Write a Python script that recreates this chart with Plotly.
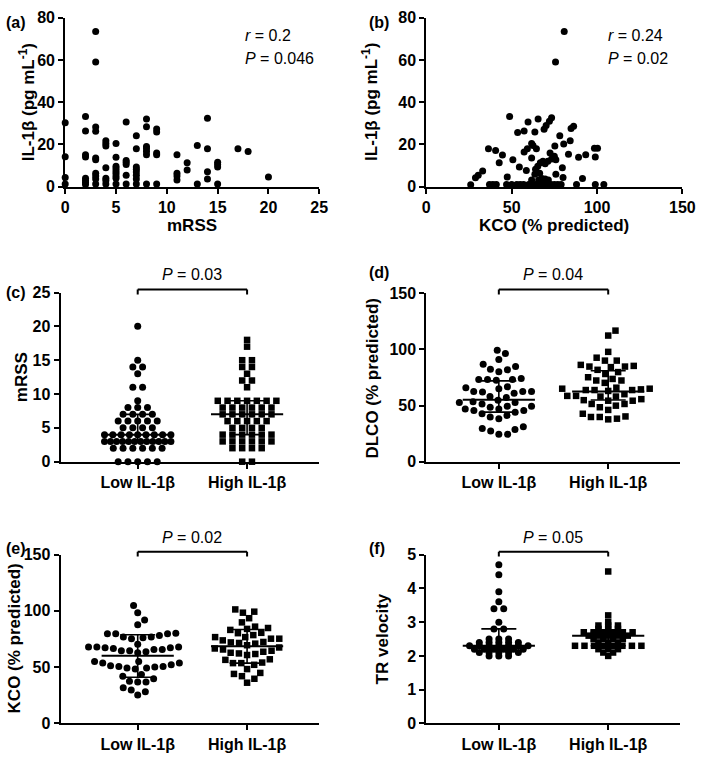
import plotly.graph_objects as go

W, H = 709, 766
FONT = "Liberation Sans"

# ---------------- data ----------------
# (a) IL-1b vs mRSS
a_mrss = [0, 0, 0, 0,
          2, 2, 2, 2, 2, 2, 2, 2,
          3, 3, 3, 3, 3, 3, 3, 3, 3, 3,
          4, 4, 4, 4, 4, 4, 4,
          5, 5, 5, 5, 5, 5, 5, 5, 5,
          6, 6, 6, 6, 6, 6,
          7, 7, 7, 7, 7, 7, 7, 7,
          8, 8, 8, 8, 8, 8, 8,
          9, 9, 9, 9, 9,
          11, 11, 11, 11,
          12, 12,
          13, 13,
          14, 14, 14, 14,
          15, 15, 15, 15,
          17, 18, 20]
a_il1b = [30.3, 14.2, 4.3, 1.2,
          33.2, 26.4, 15.1, 14.0, 4.0, 2.9, 2.0, 1.0,
          73.5, 59.0, 28.3, 26.2, 13.6, 12.7, 6.3, 5.1, 3.6, 1.2,
          21.8, 20.5, 19.3, 9.0, 4.0, 2.9, 1.2,
          20.5, 13.9, 9.7, 8.6, 7.4, 6.3, 5.1, 4.0, 1.2,
          30.6, 12.4, 11.6, 10.5, 5.4, 1.2,
          24.1, 17.9, 9.3, 8.2, 6.9, 5.4, 3.6, 1.2,
          32.1, 28.4, 19.0, 17.9, 16.7, 15.1, 1.2,
          27.3, 25.9, 15.9, 15.1, 1.2,
          15.1, 6.3, 5.1, 3.2,
          11.3, 7.9,
          19.5, 1.2,
          32.4, 17.9, 7.1, 3.6,
          11.6, 10.5, 9.3, 1.2,
          17.9, 16.7, 4.6]

# (b) IL-1b vs KCO
b_kco = [80.8, 75.7, 48.8, 59.6, 65.5, 73.4, 72.1, 70.2, 69.0, 53.5, 57.3, 63.6,
         84.8, 86.3, 78.2, 84.3, 80.5, 75.3, 61.7, 62.5, 59.2, 57.3, 64.5,
         36.4, 40.6, 44.6, 42.7, 50.7, 54.5, 58.6, 61.7, 72.5, 75.0, 75.9,
         83.3, 89.2, 93.4, 98.5, 100.3, 99.0, 26.0, 28.8, 30.4, 33.0, 47.4,
         79.7, 75.9, 80.1, 91.5, 64.0, 65.3, 66.8, 68.3, 69.6, 71.2, 73.4,
         63.6, 66.4, 67.7, 69.6, 61.7, 65.8, 71.5,
         37, 39, 41, 47, 50, 53, 55, 57, 60, 62, 64, 66, 68, 70, 73, 75, 77,
         79, 88, 99, 104]
b_il1b = [73.5, 59.0, 33.2, 30.6, 32.1, 32.6, 31.0, 29.0, 27.2, 25.6, 26.4, 25.9,
          27.5, 28.6, 24.1, 21.8, 20.2, 19.3, 20.5, 19.5, 17.9, 16.4, 17.9,
          17.9, 17.1, 15.0, 11.3, 12.8, 9.3, 7.7, 13.6, 15.9, 14.4, 12.8,
          15.4, 13.9, 15.1, 18.2, 18.2, 14.0, 0.9, 4.2, 5.4, 7.4, 4.6,
          9.0, 5.9, 4.3, 3.9, 8.2, 9.7, 11.3, 12.0, 10.8, 12.0, 13.1,
          5.9, 6.3, 3.9, 3.6, 3.1, 3.1, 3.1,
          1, 1, 1, 1, 1, 1, 1, 1, 1, 1, 1, 1, 1, 1, 1, 1, 1,
          1, 1, 1, 1]

groups = ["Low IL-1β", "High IL-1β"]

# (c) mRSS
c_low = [20, 15, 14, 14, 13, 11, 11, 9, 8, 8, 8, 7, 7, 7, 7,
         6, 6, 6, 6, 6, 5, 5, 5, 5, 4, 4, 4, 4, 4, 4, 4, 4, 4,
         3, 3, 3, 3, 3, 3, 3, 3, 3, 3, 3, 3, 2, 2, 2, 2, 2, 2,
         0, 0, 0, 0, 0]
c_high = [18, 17, 15, 15, 14, 14, 13, 12, 12, 11,
          9, 9, 9, 9, 9, 9, 9, 8, 8, 8, 8, 8, 8, 7, 7, 7, 7, 7, 7,
          6, 6, 6, 6, 6, 5, 5, 5, 5, 4, 4, 4, 4, 4, 4,
          3, 3, 3, 3, 3, 3, 2, 2, 2, 2, 0, 0]
c_stats = {"Low IL-1β": [4, 3, 7], "High IL-1β": [7, 4, 9]}  # median, q1, q3

# (d) DLCO
d_low = [99.2, 96.3, 91.1, 86.8, 84.7, 82.4, 81.8, 80.1, 74.0, 72.5, 73.1, 73.1,
         73.1, 66.7, 65.0, 62.4, 60.9, 62.4, 62.1, 62.4, 65.9, 58.0, 57.2, 54.8,
         52.8, 49.3, 48.5, 49.3, 52.8, 53.4, 51.4, 47.0, 45.6, 42.7, 39.8, 38.3,
         41.2, 44.1, 45.6, 47.0, 29.6, 27.3, 24.4, 24.4, 28.7, 31.1]
d_high = [112.3, 116.7, 97.8, 86.2, 84.7, 84.2, 90.0, 90.0, 92.6, 84.7, 85.3,
          78.1, 73.7, 72.3, 79.8, 81.8, 72.3, 75.2, 65.0, 63.8, 63.8, 65.9,
          65.0, 70.2, 63.8, 63.0, 64.4, 55.7, 54.3, 51.4, 49.9, 48.5, 51.4,
          54.3, 54.8, 58.6, 60.1, 58.0, 58.6, 58.0, 46.1, 40.3, 39.8, 37.7,
          38.3, 39.8, 42.7]
d_stats = {"Low IL-1β": [55.1, 44.1, 72.0], "High IL-1β": [62.4, 55.0, 81.0]}

# (e) KCO
e_low = [104.8, 98.4, 91.8, 87.7, 78.2, 79.6, 79.6, 79.6, 80.2, 76.7, 76.1, 75.3,
         76.7, 68.0, 67.2, 66.6, 65.7, 64.6, 62.8, 68.0, 70.4, 63.7, 64.6, 65.7,
         67.2, 68.0, 55.0, 53.6, 52.1, 50.7, 49.2, 48.3, 49.2, 50.1, 50.7, 51.2,
         53.6, 55.0, 43.4, 42.0, 36.8, 36.8, 37.6, 39.7, 29.8, 28.1, 31.8, 25.2]
e_high = [99.3, 101.3, 98.4, 93.5, 89.8, 84.8, 83.1, 80.2, 84.0, 86.0, 76.7,
          75.3, 72.4, 70.9, 71.5, 72.0, 73.8, 75.3, 76.7, 66.6, 64.6, 62.8,
          61.7, 60.8, 62.2, 63.7, 65.7, 67.5, 69.5, 56.5, 53.6, 52.1, 53.6,
          54.1, 57.0, 44.9, 48.3, 44.0, 36.2, 39.7, 42.0, 78.5, 80.5]
e_stats = {"Low IL-1β": [60.2, 41.1, 78.8], "High IL-1β": [68.6, 53.6, 83.4]}

# (f) TR velocity
f_low = [4.7, 4.4, 3.9, 3.6, 3.4, 3.4, 3.0, 2.8, 2.8, 2.5, 2.5, 2.5,
         2.4, 2.4, 2.4, 2.4, 2.4, 2.3, 2.3, 2.3, 2.3, 2.3, 2.3, 2.3,
         2.2, 2.2, 2.2, 2.2, 2.2, 2.2, 2.1, 2.1, 2.1, 2.1, 2.1, 2.0, 2.0, 2.0]
f_high = [4.5, 3.2, 3.0, 2.9, 2.9, 2.9, 2.8, 2.8, 2.8,
          2.7, 2.7, 2.7, 2.7, 2.7, 2.7, 2.6, 2.6, 2.6, 2.6, 2.6,
          2.5, 2.5, 2.5, 2.5, 2.4, 2.4, 2.4, 2.3, 2.3, 2.3, 2.3, 2.3, 2.3,
          2.3, 2.3, 2.2, 2.2, 2.2, 2.1, 2.1, 2.0]
f_stats = {"Low IL-1β": [2.3, 2.2, 2.8], "High IL-1β": [2.6, 2.3, 2.7]}

# ---------------- layout geometry (pixels) ----------------
panels = {
    "a": dict(x=(62.7, 323), y=(10, 182.7)),
    "b": dict(x=(432.7, 695), y=(10, 182.7)),
    "c": dict(x=(58, 323), y=(291, 464)),
    "d": dict(x=(432.7, 693), y=(291.7, 464)),
    "e": dict(x=(58, 323), y=(559, 731.7)),
    "f": dict(x=(432.7, 693), y=(559, 731.7)),
}
ids = {"a": "", "b": "2", "c": "3", "d": "4", "e": "5", "f": "6"}
PX_PER_CAT = 112.0


def dom(p):
    x0, x1 = p["x"]
    y0, y1 = p["y"]
    return [x0 / W, x1 / W], [1 - y1 / H, 1 - y0 / H]


def swarm(vals, py_per_unit, D):
    """beeswarm layout: horizontal pixel offsets so markers do not overlap"""
    order = sorted(range(len(vals)), key=lambda i: vals[i])
    placed = []
    xs = [0.0] * len(vals)
    side = 1
    for i in order:
        y = vals[i] * py_per_unit
        cands = [0.0]
        for (px, pyy) in placed:
            dy = abs(y - pyy)
            if dy < D:
                dx = (D * D - dy * dy) ** 0.5
                cands += [px + dx, px - dx]

        def ok(c):
            for (px, pyy) in placed:
                if (c - px) ** 2 + (y - pyy) ** 2 < D * D - 1e-6:
                    return False
            return True

        valid = [c for c in cands if ok(c)]
        best = min(valid, key=lambda c: (round(abs(c), 2), -side * c))
        if abs(best) > 1e-6:
            side = -side
        placed.append((best, y))
        xs[i] = best
    return xs


def rows(vals, spacing=10.0, maxw=68.0):
    """row layout for repeated values: equal values side by side, centred"""
    xs = [0.0] * len(vals)
    byval = {}
    for i, v in enumerate(vals):
        byval.setdefault(v, []).append(i)
    for v, idx in byval.items():
        n = len(idx)
        sp = spacing if n < 2 else min(spacing, maxw / (n - 1))
        for j, i in enumerate(idx):
            xs[i] = (j - (n - 1) / 2.0) * sp
    return xs


fig = go.Figure()

axis_common = dict(
    showline=True, linecolor="black", linewidth=2, mirror=False,
    ticks="outside", ticklen=5, tickwidth=2, tickcolor="black",
    showgrid=False, zeroline=False, fixedrange=True,
    tickfont=dict(family=FONT, size=16, color="black", weight="bold"),
)

ranges = {
    "a": dict(x=[0, 25], xd=5, y=[0, 80], yd=20),
    "b": dict(x=[0, 150], xd=50, y=[0, 80], yd=20),
    "c": dict(x=[0.295, 2.66], y=[0, 25], yd=5),
    "d": dict(x=[0.337, 2.66], y=[0, 150], yd=50),
    "e": dict(x=[0.295, 2.66], y=[0, 150], yd=50),
    "f": dict(x=[0.337, 2.66], y=[0, 5], yd=1),
}

layout = dict()
for k, p in panels.items():
    xd, yd = dom(p)
    sid = ids[k]
    r = ranges[k]
    xa = dict(axis_common, domain=xd, range=r["x"], anchor="y" + sid)
    if "xd" in r:
        xa.update(tick0=0, dtick=r["xd"])
    else:
        xa.update(tickmode="array", tickvals=[1, 2], ticktext=groups)
    ya = dict(axis_common, domain=yd, range=r["y"], anchor="x" + sid,
              tick0=0, dtick=r["yd"])
    layout["xaxis" + sid] = xa
    layout["yaxis" + sid] = ya

# scatter panels
for k, xs, ys in [("a", a_mrss, a_il1b), ("b", b_kco, b_il1b)]:
    sid = ids[k]
    fig.add_trace(go.Scatter(x=xs, y=ys, mode="markers", cliponaxis=False,
                             marker=dict(color="black", size=7, symbol="circle"),
                             xaxis="x" + sid, yaxis="y" + sid, showlegend=False))

# dot plots
dot_panels = [("c", c_low, c_high, c_stats, "rows", 10.0),
              ("d", d_low, d_high, d_stats, "swarm", 9.0),
              ("e", e_low, e_high, e_stats, "swarm", 8.5),
              ("f", f_low, f_high, f_stats, "rows", 10.0)]
for k, lo, hi, st, mode, D in dot_panels:
    sid = ids[k]
    p = panels[k]
    yr = ranges[k]["y"]
    ppu = (p["y"][1] - p["y"][0]) / (yr[1] - yr[0])
    for gi, (vals, sym, size) in enumerate([(lo, "circle", 7), (hi, "square", 6.5)]):
        center = gi + 1
        offs = swarm(vals, ppu, D) if mode == "swarm" else rows(vals, D)
        xs = [center + o / PX_PER_CAT for o in offs]
        fig.add_trace(go.Scatter(x=xs, y=vals, mode="markers", cliponaxis=False,
                                 marker=dict(color="black", size=size, symbol=sym,
                                             line=dict(width=0)),
                                 xaxis="x" + sid, yaxis="y" + sid, showlegend=False))
    # median and IQR lines
    mx, my, wx, wy = [], [], [], []
    for gi, g in enumerate(groups):
        c = gi + 1
        med, q1, q3 = st[g]
        mx += [c - 0.33, c + 0.33, None]
        my += [med, med, None]
        wx += [c - 0.16, c + 0.16, None, c - 0.16, c + 0.16, None, c, c, None]
        wy += [q1, q1, None, q3, q3, None, q1, q3, None]
    fig.add_trace(go.Scatter(x=mx, y=my, mode="lines", line=dict(color="black", width=2),
                             xaxis="x" + sid, yaxis="y" + sid, showlegend=False))
    fig.add_trace(go.Scatter(x=wx, y=wy, mode="lines", line=dict(color="black", width=1.6),
                             xaxis="x" + sid, yaxis="y" + sid, showlegend=False))

annotations = []
shapes = []


def ann(text, px, py, size=16, bold=True, angle=0, xanchor="center"):
    annotations.append(dict(
        text=text, x=px / W, y=1 - py / H, xref="paper", yref="paper",
        showarrow=False, textangle=angle, xanchor=xanchor, yanchor="middle",
        font=dict(family=FONT, size=size, color="black",
                  weight="bold" if bold else "normal")))


# panel letters
ann("(a)", 0, 15, xanchor="left")
ann("(b)", 372, 15, xanchor="left")
ann("(c)", 0, 291, xanchor="left")
ann("(d)", 372, 271, xanchor="left")
ann("(e)", 0, 553, xanchor="left")
ann("(f)", 372, 553, xanchor="left")

# axis titles
ann("IL-1β (pg mL<sup>-1</sup>)", 23, 96, size=17, angle=-90)
ann("mRSS", 193, 222, size=17)
ann("IL-1β (pg mL<sup>-1</sup>)", 375, 96, size=17, angle=-90)
ann("KCO (% predicted)", 564, 222, size=17)
ann("mRSS", 18, 378, size=17, angle=-90)
ann("DLCO (% predicted)", 378, 378, size=17, angle=-90)
ann("KCO (% predicted)", 11, 645, size=17, angle=-90)
ann("TR velocity", 388, 645, size=17, angle=-90)

# statistics text
ann("<i>r</i> = 0.2", 245, 28, bold=False, xanchor="left")
ann("<i>P</i> = 0.046", 245, 52, bold=False, xanchor="left")
ann("<i>r</i> = 0.24", 617, 28, bold=False, xanchor="left")
ann("<i>P</i> = 0.02", 617, 52, bold=False, xanchor="left")

brackets = [("c", "<i>P</i> = 0.03", 273, 288, 293),
            ("d", "<i>P</i> = 0.04", 273, 288, 293),
            ("e", "<i>P</i> = 0.02", 542, 556, 561),
            ("f", "<i>P</i> = 0.05", 542, 556, 561)]
for k, txt, ty, by0, by1 in brackets:
    sid = ids[k]
    xr = "x" + sid
    yb0, yb1 = 1 - by0 / H, 1 - by1 / H
    for (x0, y0, x1, y1) in [(1, yb0, 2, yb0), (1, yb0, 1, yb1), (2, yb0, 2, yb1)]:
        shapes.append(dict(type="line", xref=xr, yref="paper", x0=x0, x1=x1,
                           y0=y0, y1=y1, line=dict(color="black", width=2)))
    px = panels[k]["x"][0] + (1.5 - ranges[k]["x"][0]) * PX_PER_CAT
    ann(txt, px, ty, bold=False)

fig.update_layout(
    width=W, height=H, margin=dict(l=0, r=0, t=0, b=0),
    paper_bgcolor="white", plot_bgcolor="white",
    annotations=annotations, shapes=shapes, showlegend=False,
    font=dict(family=FONT, color="black"),
    **layout,
)

fig.write_html(
    "out.html",
    config={"displayModeBar": False, "staticPlot": True},
    post_script="document.body.style.margin='0';document.body.style.padding='0';"
                "document.documentElement.style.overflow='hidden';",
)
